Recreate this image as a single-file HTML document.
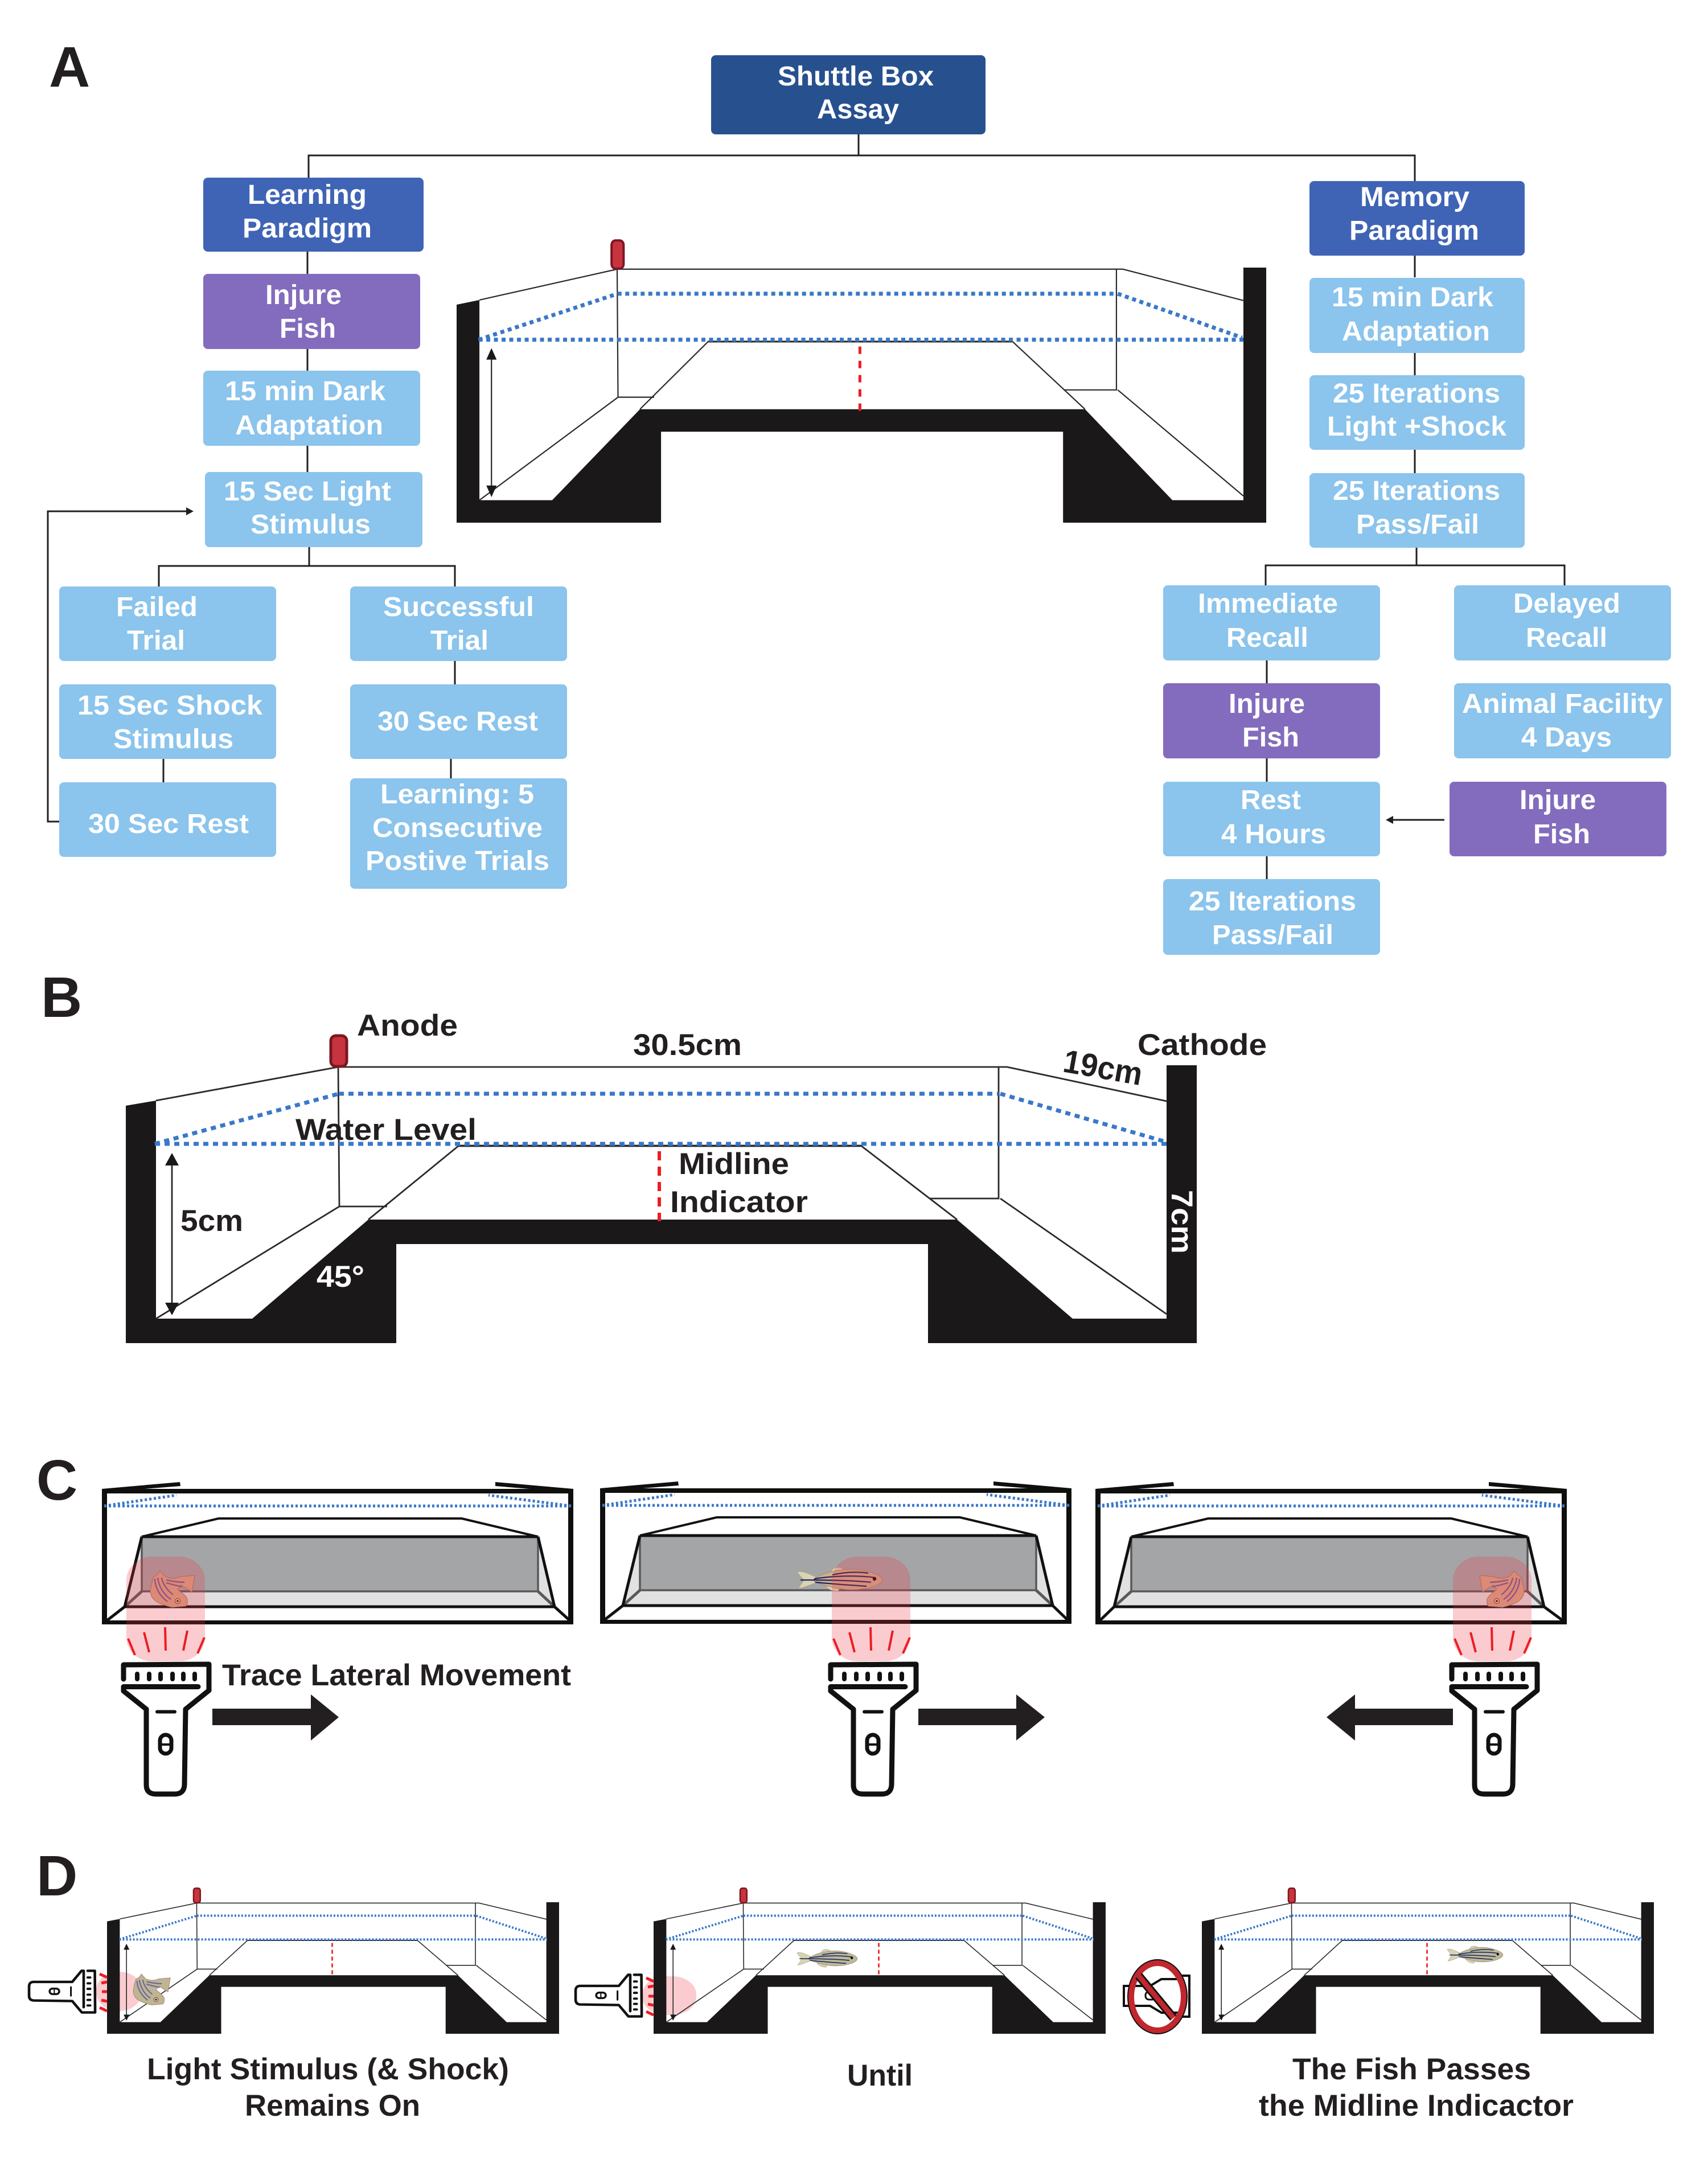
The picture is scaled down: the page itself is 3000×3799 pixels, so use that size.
<!DOCTYPE html>
<html>
<head>
<meta charset="utf-8">
<title>Shuttle Box Assay</title>
<style>
html,body{margin:0;padding:0;background:#fff;width:3000px;height:3799px;overflow:hidden}
svg{display:block}
text{font-family:"Liberation Sans",Arial,sans-serif;font-weight:bold}
.w{font-size:48px;fill:#fff}
.k{font-size:53px;fill:#231f20}
.h{font-size:100px;fill:#231f20}
.c{stroke:#231f20;stroke-width:3;fill:none}
.t{stroke:#2a2a2a;stroke-width:var(--tw);fill:none;vector-effect:non-scaling-stroke}
.d{stroke:#3a78c8;stroke-width:var(--dw);stroke-dasharray:var(--da);fill:none;vector-effect:non-scaling-stroke}
.r{stroke:#ed1c24;stroke-width:var(--rw);stroke-dasharray:var(--ra);fill:none;vector-effect:non-scaling-stroke}
.m{fill:#c73440;stroke:#7d1620;stroke-width:var(--mw);vector-effect:non-scaling-stroke}
.ray{stroke:#ed1c24;stroke-width:4;fill:none}
.ray2{stroke:#ed1c24;stroke-width:5;fill:none}
</style>
</head>
<body>
<svg xmlns="http://www.w3.org/2000/svg" width="3000" height="3799" viewBox="0 0 3000 3799">
<defs>
<g id="tank">
  <path fill="#1a1819" d="M221,1942 274,1933 274,2316 443,2316 647,2142 1681,2142 1884,2316 2049,2316 2049,1871 2102,1871 2102,2359 1630,2359 1630,2185 696,2185 696,2359 221,2359Z"/>
  <path class="t" d="M274,1933 594,1874 1769,1874 2049,1934"/>
  <path class="t" d="M594,1874 596,2119 274,2316M596,2119H680"/>
  <path class="t" d="M647,2142 806,2012 1512,2012 1681,2142"/>
  <path class="t" d="M1754,1874V2105H1632M1757,2105 2049,2308"/>
  <path class="t" d="M806,2013H1512"/>
  <path class="d" d="M595,1921H1754"/>
  <path class="d" d="M272,2009H2052"/>
  <path class="d" d="M272,2009 595,1921"/>
  <path class="d" d="M1757,1921 2046,2005"/>
  <path class="r" d="M1158,2022V2145"/>
  <path class="t" d="M302,2040V2295"/>
  <path fill="#1a1819" d="M302,2025 314,2047 290,2047ZM302,2310 290,2288 314,2288Z"/>
  <rect class="m" x="581" y="1819" width="28" height="54" rx="9"/>
</g>
<g id="cinner">
  <path fill="#e1e1e2" d="M249,2795H945L974,2822H219Z"/>
  <path fill="#e1e1e2" d="M249,2699V2795L219,2822ZM945,2699V2795L974,2822Z"/>
  <rect x="249" y="2699" width="696" height="96" fill="#a4a5a7"/>
  <path fill="none" stroke="#58595b" stroke-width="3.5" d="M249,2702V2795H945V2702"/>
  <path fill="none" stroke="#58595b" stroke-width="5" d="M249,2795 219,2822M945,2795 974,2822"/>
  <path fill="none" stroke="#111" stroke-width="4" d="M249,2699 384,2667H811L945,2699"/>
  <path fill="none" stroke="#111" stroke-width="5" d="M249,2699H945M249,2699 219,2822H974L945,2699"/>
</g>
<g id="couter">
  <path fill="#0f0f0d" fill-rule="evenodd" d="M179,2615 316,2603 317,2610 254,2615H930L870,2610 870,2603 1007,2615V2853H179ZM188,2623V2846H998V2623Z"/>
  <path fill="none" stroke="#3a78c8" stroke-width="5" stroke-dasharray="4 4" d="M183,2645H1003M183,2645 310,2626M1003,2645 858,2626"/>
</g>
<g id="pink">
  <rect x="222" y="2734" width="138" height="184" rx="45" ry="42" fill="#ee3340" fill-opacity=".25"/>
  <path class="ray" d="M225,2878 237,2907M253,2867 262,2902M290,2858 291,2899M329,2864 322,2899M359,2876 347,2904"/>
</g>
<g id="flash" fill="none" stroke="#111" stroke-linecap="round" stroke-linejoin="round">
  <path stroke-width="9" d="M217,2949V2924L367,2923V2969L326,3002 324,3135Q323,3151 307,3151H274Q257,3151 257,3135V3002L217,2970V2962.5H348"/>
  <path stroke-width="8" d="M241,2940V2949M262,2940V2949M282,2940V2949M303,2940V2949M322,2940V2949M342,2940V2949"/>
  <path stroke-width="6" d="M276,3006.5H307"/>
  <rect x="281" y="3047" width="20" height="33" rx="10" stroke-width="7"/>
  <path stroke-width="4" d="M281,3064H301"/>
</g>
<g id="fishS">
  <path fill="#d9d3b4" stroke="#a9a585" stroke-width="1" d="M0,8C10,5 22,12 34,17L36,26C24,30 12,36 2,37 6,30 10,26 12,22 8,18 3,13 0,8Z"/>
  <path fill="#d9d3b4" stroke="#a9a585" stroke-width="1" d="M60,8Q62,-1 76,0L88,6ZM50,33Q58,42 72,42L76,34Z"/>
  <path style="fill:var(--fb)" stroke="#998f70" stroke-width="1" d="M30,20C50,6 90,0 115,5 135,9 150,16 150,22 148,31 125,38 100,39 75,40 50,32 30,25Z"/>
  <path fill="none" stroke="#1b2a5e" stroke-width="2.2" d="M62,13C85,8 105,7 125,10M30,20C60,15 105,13 138,18M6,22C50,22 100,23 130,26M32,26C60,29 95,31 122,33"/>
  <circle cx="136" cy="20" r="3.2" fill="#111"/>
</g>
<g id="fishB">
  <path style="fill:var(--fb)" stroke="#a07a60" stroke-width="1" d="M17,0 26,10C36,14 44,14 54,10L78,8 73,37 54,25 48,33C58,40 64,46 65,50 66,56 64,62 62,62L38,64C22,60 10,55 6,50 0,44 0,35 0,35 2,20 6,10 6,10 12,8 15,5 17,0Z"/>
  <path fill="none" stroke="#5a4f9c" stroke-opacity=".8" stroke-width="2.4" d="M8,14C8,30 18,45 30,54M13,12C15,28 24,42 36,50M20,12C22,24 30,34 40,42M28,16C38,18 48,20 60,20M28,21C38,24 46,26 56,28"/>
  <circle cx="48" cy="53" r="4.5" fill="#e9c2a0" stroke="#6b3a2a" stroke-width="1"/>
  <circle cx="48" cy="53" r="1.8" fill="#222"/>
</g>
</defs>

<!-- Panel letters -->
<text class="h" x="86" y="152">A</text>
<text class="h" x="72" y="1786">B</text>
<text class="h" x="64" y="2634">C</text>
<text class="h" x="64" y="3329">D</text>

<!-- Connectors A -->
<path class="c" d="M542,312V273H2485V318M1508,236V273"/>
<path class="c" d="M540,442V481M540,613V651M540,783V829M543,961V994M279,1030V994H799V1030"/>
<path class="c" d="M287,1333V1374M799,1161V1202M792,1333V1367"/>
<path class="c" d="M104,1443H84V898H328"/>
<path fill="#231f20" d="M340,898 327,891V905Z"/>
<path class="c" d="M2485,448V487M2485,620V659M2485,790V831M2488,962V993M2223,1028V993H2748V1028"/>
<path class="c" d="M2225,1160V1200M2225,1332V1373M2225,1504V1544"/>
<path class="c" d="M2537,1440H2446"/>
<path fill="#231f20" d="M2434,1440 2447,1433V1447Z"/>

<!-- Boxes -->
<rect x="1249" y="97" width="482" height="139" rx="8" fill="#27508f"/>
<rect x="357" y="312" width="387" height="130" rx="8" fill="#4064b5"/>
<rect x="2300" y="318" width="378" height="131" rx="8" fill="#4064b5"/>
<rect x="357" y="481" width="381" height="132" rx="8" fill="#836cbd"/>
<g fill="#8bc4ec">
<rect x="357" y="651" width="381" height="132" rx="8"/>
<rect x="360" y="829" width="382" height="132" rx="8"/>
<rect x="104" y="1030" width="381" height="131" rx="8"/>
<rect x="615" y="1030" width="381" height="131" rx="8"/>
<rect x="104" y="1202" width="381" height="131" rx="8"/>
<rect x="615" y="1202" width="381" height="131" rx="8"/>
<rect x="104" y="1374" width="381" height="131" rx="8"/>
<rect x="615" y="1367" width="381" height="194" rx="8"/>
<rect x="2300" y="488" width="378" height="132" rx="8"/>
<rect x="2300" y="659" width="378" height="131" rx="8"/>
<rect x="2300" y="831" width="378" height="131" rx="8"/>
<rect x="2043" y="1028" width="381" height="132" rx="8"/>
<rect x="2554" y="1028" width="381" height="132" rx="8"/>
<rect x="2554" y="1200" width="381" height="132" rx="8"/>
<rect x="2043" y="1373" width="381" height="131" rx="8"/>
<rect x="2043" y="1544" width="381" height="133" rx="8"/>
</g>
<rect x="2043" y="1200" width="381" height="132" rx="8" fill="#836cbd"/>
<rect x="2546" y="1373" width="381" height="131" rx="8" fill="#836cbd"/>

<!-- Box text -->
<text class="w" x="1366" y="150" textLength="274" lengthAdjust="spacingAndGlyphs">Shuttle Box</text>
<text class="w" x="1435" y="208" textLength="144" lengthAdjust="spacingAndGlyphs">Assay</text>
<text class="w" x="435" y="358" textLength="209" lengthAdjust="spacingAndGlyphs">Learning</text>
<text class="w" x="426" y="417" textLength="227" lengthAdjust="spacingAndGlyphs">Paradigm</text>
<text class="w" x="466" y="534" textLength="134" lengthAdjust="spacingAndGlyphs">Injure</text>
<text class="w" x="491" y="593" textLength="99" lengthAdjust="spacingAndGlyphs">Fish</text>
<text class="w" x="395" y="703" textLength="282" lengthAdjust="spacingAndGlyphs">15 min Dark</text>
<text class="w" x="413" y="763" textLength="260" lengthAdjust="spacingAndGlyphs">Adaptation</text>
<text class="w" x="393" y="879" textLength="294" lengthAdjust="spacingAndGlyphs">15 Sec Light</text>
<text class="w" x="440" y="937" textLength="211" lengthAdjust="spacingAndGlyphs">Stimulus</text>
<text class="w" x="204" y="1082" textLength="143" lengthAdjust="spacingAndGlyphs">Failed</text>
<text class="w" x="223" y="1141" textLength="102" lengthAdjust="spacingAndGlyphs">Trial</text>
<text class="w" x="673" y="1082" textLength="265" lengthAdjust="spacingAndGlyphs">Successful</text>
<text class="w" x="756" y="1141" textLength="102" lengthAdjust="spacingAndGlyphs">Trial</text>
<text class="w" x="136" y="1255" textLength="325" lengthAdjust="spacingAndGlyphs">15 Sec Shock</text>
<text class="w" x="199" y="1314" textLength="211" lengthAdjust="spacingAndGlyphs">Stimulus</text>
<text class="w" x="155" y="1463" textLength="282" lengthAdjust="spacingAndGlyphs">30 Sec Rest</text>
<text class="w" x="663" y="1283" textLength="282" lengthAdjust="spacingAndGlyphs">30 Sec Rest</text>
<text class="w" x="668" y="1411" textLength="270" lengthAdjust="spacingAndGlyphs">Learning: 5</text>
<text class="w" x="654" y="1470" textLength="299" lengthAdjust="spacingAndGlyphs">Consecutive</text>
<text class="w" x="642" y="1528" textLength="323" lengthAdjust="spacingAndGlyphs">Postive Trials</text>
<text class="w" x="2389" y="362" textLength="192" lengthAdjust="spacingAndGlyphs">Memory</text>
<text class="w" x="2370" y="421" textLength="228" lengthAdjust="spacingAndGlyphs">Paradigm</text>
<text class="w" x="2339" y="538" textLength="284" lengthAdjust="spacingAndGlyphs">15 min Dark</text>
<text class="w" x="2357" y="598" textLength="260" lengthAdjust="spacingAndGlyphs">Adaptation</text>
<text class="w" x="2341" y="707" textLength="294" lengthAdjust="spacingAndGlyphs">25 Iterations</text>
<text class="w" x="2331" y="765" textLength="315" lengthAdjust="spacingAndGlyphs">Light +Shock</text>
<text class="w" x="2341" y="878" textLength="294" lengthAdjust="spacingAndGlyphs">25 Iterations</text>
<text class="w" x="2382" y="937" textLength="216" lengthAdjust="spacingAndGlyphs">Pass/Fail</text>
<text class="w" x="2104" y="1076" textLength="246" lengthAdjust="spacingAndGlyphs">Immediate</text>
<text class="w" x="2154" y="1136" textLength="144" lengthAdjust="spacingAndGlyphs">Recall</text>
<text class="w" x="2658" y="1076" textLength="188" lengthAdjust="spacingAndGlyphs">Delayed</text>
<text class="w" x="2680" y="1136" textLength="143" lengthAdjust="spacingAndGlyphs">Recall</text>
<text class="w" x="2158" y="1252" textLength="134" lengthAdjust="spacingAndGlyphs">Injure</text>
<text class="w" x="2182" y="1311" textLength="100" lengthAdjust="spacingAndGlyphs">Fish</text>
<text class="w" x="2568" y="1252" textLength="353" lengthAdjust="spacingAndGlyphs">Animal Facility</text>
<text class="w" x="2672" y="1311" textLength="159" lengthAdjust="spacingAndGlyphs">4 Days</text>
<text class="w" x="2179" y="1421" textLength="106" lengthAdjust="spacingAndGlyphs">Rest</text>
<text class="w" x="2145" y="1481" textLength="184" lengthAdjust="spacingAndGlyphs">4 Hours</text>
<text class="w" x="2669" y="1421" textLength="134" lengthAdjust="spacingAndGlyphs">Injure</text>
<text class="w" x="2693" y="1481" textLength="100" lengthAdjust="spacingAndGlyphs">Fish</text>
<text class="w" x="2088" y="1599" textLength="294" lengthAdjust="spacingAndGlyphs">25 Iterations</text>
<text class="w" x="2129" y="1658" textLength="213" lengthAdjust="spacingAndGlyphs">Pass/Fail</text>

<!-- Tank A -->
<use href="#tank" transform="matrix(.756 0 0 .918 634.92 -1247.58)" style="--tw:2.2;--dw:7;--da:7 6.5;--rw:5;--ra:13 12;--mw:4"/>

<!-- Tank B -->
<use href="#tank" style="--tw:2.8;--dw:7;--da:9 8;--rw:6;--ra:16 11;--mw:5"/>
<text class="k" x="627" y="1819" textLength="177" lengthAdjust="spacingAndGlyphs">Anode</text>
<text class="k" x="1112" y="1853" textLength="191" lengthAdjust="spacingAndGlyphs">30.5cm</text>
<text class="k" x="519" y="2002" textLength="318" lengthAdjust="spacingAndGlyphs">Water Level</text>
<text class="k" x="317" y="2162" textLength="110" lengthAdjust="spacingAndGlyphs">5cm</text>
<text class="k" x="556" y="2260" textLength="84" lengthAdjust="spacingAndGlyphs" style="fill:#fff">45°</text>
<text class="k" x="1192" y="2062" textLength="194" lengthAdjust="spacingAndGlyphs">Midline</text>
<text class="k" x="1177" y="2129" textLength="242" lengthAdjust="spacingAndGlyphs">Indicator</text>
<text class="k" x="1998" y="1853" textLength="227" lengthAdjust="spacingAndGlyphs">Cathode</text>
<text class="k" transform="translate(1865 1882) rotate(10)" textLength="140" lengthAdjust="spacingAndGlyphs" style="font-size:57px">19cm</text>
<text class="k" transform="translate(2058 2090) rotate(90)" textLength="112" lengthAdjust="spacingAndGlyphs" style="fill:#fff">7cm</text>

<!-- Panel C -->
<use href="#cinner"/>
<path fill="none" stroke="#111" stroke-width="5" d="M219,2822 183,2850M974,2822 1005,2850"/>
<use href="#couter"/>
<use href="#fishB" transform="translate(264 2759)" style="--fb:#d6a688"/>
<use href="#pink"/>
<use href="#flash"/>
<path fill="#231f20" d="M373,3001H546V2976L595,3016 546,3057V3030H373Z"/>
<text class="k" x="390" y="2960" textLength="613" lengthAdjust="spacingAndGlyphs">Trace Lateral Movement</text>

<use href="#cinner" transform="translate(875 -2)"/>
<path fill="none" stroke="#111" stroke-width="5" d="M1094,2820 1058,2848M1849,2820 1878,2848"/>
<use href="#couter" transform="translate(875 -1) "/>
<use href="#fishS" transform="translate(1400 2753)" style="--fb:#d2ad90"/>
<use href="#pink" transform="translate(1239 0)"/>
<use href="#flash" transform="translate(1242 0)"/>
<path fill="#231f20" d="M1613,3001H1785V2976L1835,3016 1785,3057V3030H1613Z"/>

<use href="#cinner" transform="translate(1738 0)"/>
<path fill="none" stroke="#111" stroke-width="5" d="M1957,2822 1928,2850M2712,2822 2750,2850"/>
<use href="#couter" transform="translate(1745 0)"/>
<use href="#fishB" transform="translate(2677 2759) scale(-1 1)" style="--fb:#d6a688"/>
<use href="#pink" transform="translate(2330 0)"/>
<use href="#flash" transform="translate(2333 0)"/>
<path fill="#231f20" d="M2552,3001H2380V2976L2330,3016 2380,3057V3030H2552Z"/>

<!-- Panel D -->
<rect x="169" y="3463" width="80" height="69" rx="40" ry="32" fill="#ee3340" fill-opacity=".25"/>
<use href="#tank" transform="matrix(.4221 0 0 .4734 94.72 2455.27)" style="--tw:1.6;--dw:4;--da:3 3;--rw:2.6;--ra:7 5;--mw:2.5"/>
<use href="#fishB" transform="translate(234 3467) scale(.835 .85)" style="--fb:#bdb594"/>
<path class="ray2" d="M175,3467 188,3473M178,3483 188,3481M179,3498H188M178,3513 188,3515M175,3526 188,3532"/>
<use href="#flash" transform="matrix(0 .487 -.509 0 1654.9 3355.8)"/>
<text class="k" x="258" y="3652" textLength="636" lengthAdjust="spacingAndGlyphs">Light Stimulus (&amp; Shock)</text>
<text class="k" x="430" y="3716" textLength="308" lengthAdjust="spacingAndGlyphs">Remains On</text>

<rect x="1128" y="3471" width="95" height="68" rx="42" ry="32" fill="#ee3340" fill-opacity=".25"/>
<use href="#tank" transform="matrix(.4221 0 0 .4734 1054.72 2455.27)" style="--tw:1.6;--dw:4;--da:3 3;--rw:2.6;--ra:7 5;--mw:2.5"/>
<use href="#fishS" transform="translate(1400 3424) scale(.707 .738)" style="--fb:#bdb899"/>
<path class="ray2" d="M1135,3474 1148,3480M1138,3490 1148,3488M1139,3506H1148M1138,3520 1148,3522M1135,3533 1148,3539"/>
<use href="#flash" transform="matrix(0 .487 -.509 0 2614.9 3362.8)"/>
<text class="k" x="1488" y="3663" textLength="115" lengthAdjust="spacingAndGlyphs">Until</text>

<use href="#tank" transform="matrix(.4221 0 0 .4734 2017.72 2455.27)" style="--tw:1.6;--dw:4;--da:3 3;--rw:2.6;--ra:7 5;--mw:2.5"/>
<use href="#fishS" transform="translate(2542 3418) scale(.653 .714)" style="--fb:#bdb899"/>
<text class="k" x="2270" y="3652" textLength="419" lengthAdjust="spacingAndGlyphs">The Fish Passes</text>
<text class="k" x="2211" y="3716" textLength="553" lengthAdjust="spacingAndGlyphs">the Midline Indicactor</text>

<!-- No-flashlight icon -->
<g fill="none" stroke="#111">
  <path stroke-width="4" d="M1974,3488H2020L2040,3476H2072V3470H2089V3542H2072V3535H2040L2020,3523H1974Z"/>
  <rect x="2012" y="3498" width="18" height="14" rx="6" stroke-width="3"/>
  <ellipse cx="2033" cy="3507" rx="49" ry="62" stroke="#111" stroke-width="8"/>
  <ellipse cx="2033" cy="3507" rx="46" ry="59" stroke="#c1272d" stroke-width="10"/>
  <path stroke="#111" stroke-width="15" d="M2000,3470 2061,3544"/>
  <path stroke="#c1272d" stroke-width="9" d="M2000,3470 2061,3544"/>
</g>
</svg>
</body>
</html>
